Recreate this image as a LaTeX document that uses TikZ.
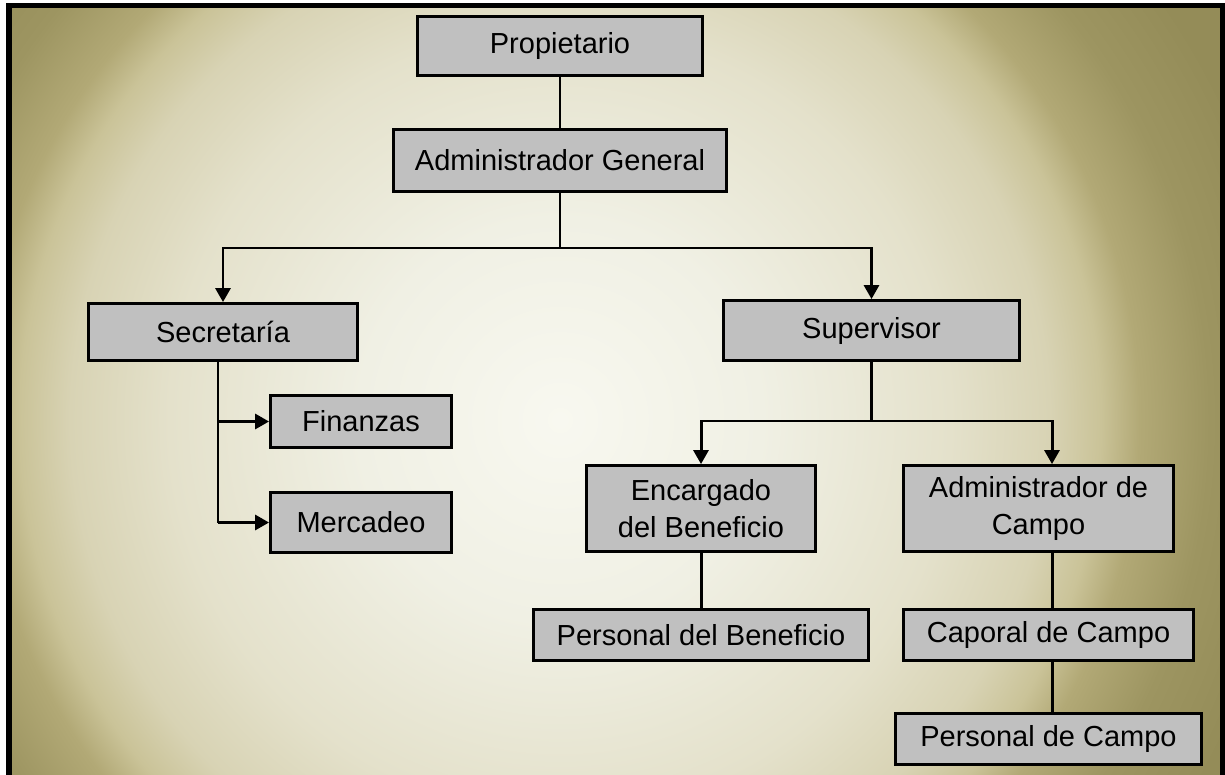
\documentclass[tikz,border=0pt]{standalone}
\usepackage{fontspec}
\setmainfont{Liberation Sans}
\usetikzlibrary{arrows.meta}

\definecolor{boxgray}{RGB}{192,192,192}
\definecolor{glow0}{RGB}{248,248,240}
\definecolor{glow1}{RGB}{240,240,228}
\definecolor{glow2}{RGB}{228,225,203}
\definecolor{glow3}{RGB}{216,211,180}
\definecolor{glow4}{RGB}{202,195,152}
\definecolor{glow5}{RGB}{178,169,118}
\definecolor{glow6}{RGB}{157,149,97}
\definecolor{glow7}{RGB}{148,140,88}

\pgfdeclareradialshading{glow}{\pgfpoint{0bp}{0bp}}{%
  color(0bp)=(glow0); color(6.3bp)=(glow1); color(12.2bp)=(glow2);
  color(15.3bp)=(glow3); color(16.9bp)=(glow4); color(18.1bp)=(glow5);
  color(20.3bp)=(glow6); color(23bp)=(glow7); color(30bp)=(glow7)}

\begin{document}
\begin{tikzpicture}[
    font=\fontsize{16.5}{21}\selectfont,
    box/.style={draw,fill=boxgray,line width=1.9pt,inner sep=0pt,align=center},
    line/.style={line width=1.7pt},
    arrow/.style={line width=1.7pt,-{Triangle[length=0.28cm,width=0.3cm]}}
]

% === Background and frame ===
\useasboundingbox (0,0) rectangle (24.5,-15.5);
\begin{scope}
  \clip (0.18,-0.11) rectangle (24.45,-15.6);
  \fill[glow7] (0.18,-0.11) rectangle (24.45,-15.6);
  \shade[shading=glow] (11.2,-8.4) circle (16);
\end{scope}
\draw[line width=0.11cm] (0.18,-0.11) rectangle (24.45,-15.7);

% === Top ===
\node[box,minimum width=5.71cm,minimum height=1.17cm] (prop) at (11.2,-0.92) {Propietario};
\node[box,minimum width=6.65cm,minimum height=1.23cm] (admgen) at (11.2,-3.21) {Administrador General};

\draw[line] (prop) -- (admgen);

% === Second level ===
\node[box,minimum width=5.37cm,minimum height=1.13cm] (secr) at (4.46,-6.64) {Secretaría};
\node[box,minimum width=5.91cm,minimum height=1.19cm] (superv) at (17.43,-6.61) {Supervisor};

\coordinate (split1) at (11.2,-4.96);
\draw[line] (admgen) -- (split1);
\draw[arrow] (split1) -| (secr);
\draw[arrow] (split1) -| (superv);

% === Secretaria branch ===
\node[box,minimum width=3.61cm,minimum height=1.03cm] (fin) at (7.22,-8.43) {Finanzas};
\node[box,minimum width=3.61cm,minimum height=1.19cm] (merc) at (7.22,-10.45) {Mercadeo};

\coordinate (secrend) at (4.36,-10.45);
\draw[line] (secr.south -| secrend) -- (secrend);
\draw[arrow] (secrend |- fin) -- (fin);
\draw[arrow] (secrend) -- (merc);

% === Supervisor branch ===
\node[box,minimum width=4.57cm,minimum height=1.71cm] (encben) at (14.02,-10.17) {Encargado\\del Beneficio};
\node[box,minimum width=5.39cm,minimum height=1.71cm] (admcampo) at (20.77,-10.17) {Administrador de\\Campo};

\coordinate (split2) at (17.43,-8.42);
\coordinate (campoline) at (21.04,0);
\draw[line] (superv) -- (split2);
\draw[arrow] (split2) -| (encben);
\draw[arrow] (split2) -| (campoline |- admcampo.north);

% === Bottom levels ===
\node[box,minimum width=6.71cm,minimum height=1.01cm] (persben) at (14.02,-12.70) {Personal del Beneficio};
\node[box,minimum width=5.79cm,minimum height=1.01cm] (caporal) at (20.97,-12.70) {Caporal de Campo};
\node[box,minimum width=6.11cm,minimum height=1.01cm] (perscampo) at (20.97,-14.78) {Personal de Campo};

\draw[line] (encben) -- (persben);
\draw[line] (admcampo.south -| campoline) -- (caporal.north -| campoline);
\draw[line] (caporal.south -| campoline) -- (perscampo.north -| campoline);

\end{tikzpicture}
\end{document}
